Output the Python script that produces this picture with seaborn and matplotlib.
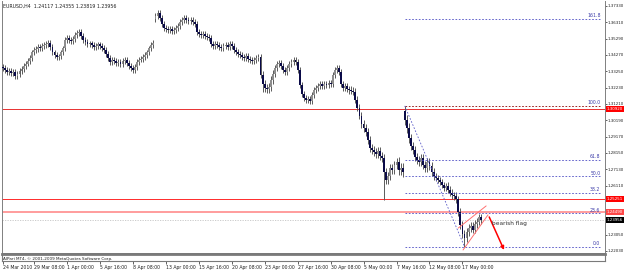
import matplotlib
matplotlib.use("Agg")
import matplotlib.pyplot as plt
import numpy as np
import pandas as pd
import seaborn as sns

# EURUSD H4 closes, 24 Mar - 17 May 2010
closes = [
    1.3346, 1.3333, 1.3320, 1.3327, 1.3314, 1.3320, 1.3295, 1.3308, 1.3327, 1.3339,
    1.3358, 1.3371, 1.3389, 1.3408, 1.3445, 1.3458, 1.3464, 1.3477, 1.3470, 1.3483,
    1.3489, 1.3495, 1.3501, 1.3477, 1.3445, 1.3427, 1.3414, 1.3420, 1.3445, 1.3470,
    1.3520, 1.3533, 1.3520, 1.3514, 1.3526, 1.3551, 1.3564, 1.3570, 1.3545, 1.3520,
    1.3508, 1.3495, 1.3501, 1.3489, 1.3477, 1.3483, 1.3495, 1.3483, 1.3470, 1.3458,
    1.3433, 1.3408, 1.3383, 1.3396, 1.3389, 1.3377, 1.3383, 1.3371, 1.3389, 1.3396,
    1.3377, 1.3358, 1.3346, 1.3333, 1.3352, 1.3383, 1.3396, 1.3402, 1.3414, 1.3427,
    1.3445, 1.3470, 1.3489, 1.3501,
    1.3670, 1.3689, 1.3658, 1.3620, 1.3595, 1.3589,
    1.3583, 1.3589, 1.3576, 1.3583, 1.3595, 1.3608, 1.3633, 1.3645, 1.3658, 1.3645,
    1.3639, 1.3645, 1.3633, 1.3620, 1.3570, 1.3558, 1.3551, 1.3558, 1.3545, 1.3539,
    1.3533, 1.3495, 1.3483, 1.3495, 1.3489, 1.3477, 1.3470, 1.3483, 1.3489, 1.3477,
    1.3495, 1.3483, 1.3458, 1.3445, 1.3433, 1.3427, 1.3414, 1.3408, 1.3420, 1.3402,
    1.3396, 1.3389, 1.3396, 1.3408, 1.3414, 1.3302, 1.3246, 1.3221, 1.3214, 1.3227,
    1.3270, 1.3308, 1.3346, 1.3371, 1.3377, 1.3358, 1.3333, 1.3320, 1.3346, 1.3371,
    1.3383, 1.3396, 1.3383, 1.3333, 1.3239, 1.3183, 1.3158, 1.3146, 1.3152, 1.3139,
    1.3177, 1.3208, 1.3221, 1.3233, 1.3246, 1.3233, 1.3246, 1.3239, 1.3252, 1.3246,
    1.3302, 1.3333, 1.3346, 1.3320, 1.3246, 1.3221, 1.3233, 1.3214, 1.3208, 1.3202,
    1.3196, 1.3146, 1.3096, 1.3046, 1.2996, 1.2971, 1.2946, 1.2896, 1.2846, 1.2833,
    1.2821, 1.2808, 1.2827, 1.2796, 1.2783, 1.2696, 1.2646, 1.2671, 1.2721, 1.2709,
    1.2740, 1.2758, 1.2709, 1.2721, 1.2696,
    1.3021, 1.2971, 1.2908, 1.2858, 1.2833,
    1.2790, 1.2771, 1.2758, 1.2783, 1.2740, 1.2721, 1.2758, 1.2734, 1.2696, 1.2671,
    1.2659, 1.2646, 1.2634, 1.2615, 1.2596, 1.2609, 1.2584, 1.2565, 1.2552, 1.2546,
    1.2527, 1.2446, 1.2365, 1.2309, 1.2284, 1.2321, 1.2346, 1.2359, 1.2334, 1.2371,
    1.2384, 1.2412, 1.2396,
]
first_open = 1.3352
gap_opens = {74: 1.3650, 195: 1.3075}          # weekend gaps
day_wicks = [0.0020, 0.0018, 0.0016, 0.0018, 0.0016, 0.0018, 0.0018, 0.0016,
             0.0018, 0.0018, 0.0018, 0.0016, 0.0020, 0.0020, 0.0018, 0.0018,
             0.0018, 0.0018, 0.0018, 0.0018, 0.0020, 0.0024, 0.0020, 0.0018,
             0.0020, 0.0020, 0.0018, 0.0020, 0.0022, 0.0024, 0.0026, 0.0024,
             0.0034, 0.0026, 0.0024, 0.0020, 0.0022, 0.0024, 0.0022]
high_spikes = {75: 1.3695, 88: 1.3668, 195: 1.3093}
low_spikes = {126: 1.3196, 147: 1.3125, 185: 1.2521, 224: 1.2230}

price_ticks = [1.2203, 1.2305, 1.2611, 1.2713, 1.2815, 1.2917, 1.3019,
               1.3121, 1.3223, 1.3325, 1.3427, 1.3529, 1.3631, 1.3733]
date_pos = [0, 15, 31, 47, 63, 79, 95, 111, 127, 143, 159, 175, 191, 207, 223]
date_labels = ["24 Mar 2010", "29 Mar 08:00", "1 Apr 00:00", "5 Apr 16:00",
               "8 Apr 08:00", "13 Apr 00:00", "15 Apr 16:00", "20 Apr 08:00",
               "23 Apr 00:00", "27 Apr 16:00", "30 Apr 08:00", "5 May 00:00",
               "7 May 16:00", "12 May 08:00", "17 May 00:00"]

# fibonacci from swing high bar to swing low bar
fib_high_bar, fib_low_bar = 195, 224
fib_ratios = [0.0, 0.236, 0.382, 0.5, 0.618, 1.0, 1.618]
fib_names = ["0.0", "23.6", "38.2", "50.0", "61.8", "100.0", "161.8"]

# horizontal levels (price, colour, width)
level_prices = [1.30920, 1.25251, 1.24490]
level_colors = ["#e83030", "#ff2a2a", "#ff9c9c"]
level_widths = [0.7, 0.7, 1.4]
bid = 1.23956
box_prices = [1.30920, 1.25251, 1.24490, 1.23956]
box_colors = ["#ff0000", "#ff0000", "#ff4848", "#000000"]

# bearish flag channel + arrow (bar, price)
flag_up_x, flag_up_y = [221, 234.5], [1.2346, 1.2484]
flag_lo_x, flag_lo_y = [223.3, 235.4], [1.2209, 1.2428]
arrow_from, arrow_to = (236, 1.2415), (243.2, 1.2209)

# ---- build OHLC
df = pd.DataFrame({"close": closes})
df["open"] = df["close"].shift(1).fillna(first_open)
for k, v in gap_opens.items():
    df.loc[k, "open"] = v
w = np.array([day_wicks[min(i // 6, len(day_wicks) - 1)] for i in range(len(df))])
df["high"] = df[["open", "close"]].max(axis=1) + w
df["low"] = df[["open", "close"]].min(axis=1) - w
for k, v in high_spikes.items():
    df.loc[k, "high"] = max(df.loc[k, "high"], v)
for k, v in low_spikes.items():
    df.loc[k, "low"] = min(df.loc[k, "low"], v)

sns.set_theme(style="white")
plt.rcParams["font.family"] = ["DejaVu Sans"]

fig = plt.figure(figsize=(6.25, 2.7), dpi=100)
ax = fig.add_axes([2 / 625, 17 / 270, 603 / 625, 252 / 270])
xmax = 292.2
ax.set_xlim(-0.5, xmax)
ax.set_ylim(1.2190, 1.3764)

# full-width levels
for p, c, lw in zip(level_prices, level_colors, level_widths):
    ax.axhline(p, color=c, lw=lw, zorder=1)
ax.axhline(bid, color="#c4c4c4", lw=0.6, ls=(0, (1.5, 1.5)), zorder=1)

# candles
ax.vlines(df.index, df["low"], df["high"], color="#5a5a5a", lw=0.7, zorder=2)
up = df["close"] >= df["open"]
body = (df["close"] - df["open"]).abs().clip(lower=0.0003)
ax.bar(df.index[up], body[up], bottom=df["open"][up], width=0.9,
       color="#8e8e8e", linewidth=0, zorder=3)
ax.bar(df.index[~up], body[~up], bottom=df["close"][~up], width=0.9,
       color="#0a0a48", linewidth=0, zorder=3)

# fibonacci
hi = df.loc[fib_high_bar, "high"]
lo = df.loc[fib_low_bar, "low"]
fib_end = 290
for r, name in zip(fib_ratios, fib_names):
    lvl = lo + r * (hi - lo)
    col = "#8a0000" if r == 1.0 else "#4c4cc4"
    ax.hlines(lvl, fib_high_bar, fib_end, colors=col, lw=0.6,
              linestyles=(0, (2, 2)), zorder=4)
    ax.text(fib_end, lvl + 0.0003, name, ha="right", va="bottom",
            fontsize=3.3, color="#3a3aa8", zorder=5)
sns.lineplot(x=[fib_high_bar, fib_low_bar], y=[hi, lo], ax=ax, color="#5a5ac8",
             lw=0.6, zorder=4).lines[-1].set_linestyle((0, (2, 2)))

# bearish flag
ax.plot(flag_up_x, flag_up_y, color="#ff7070", lw=0.7, zorder=5)
ax.plot(flag_lo_x, flag_lo_y, color="#ff7070", lw=0.7, zorder=5)
ax.annotate("", xy=arrow_to, xytext=arrow_from,
            arrowprops=dict(arrowstyle="-|>", color="#ff0000", lw=1.1,
                            mutation_scale=5, shrinkA=0, shrinkB=0), zorder=6)
ax.text(237.5, 1.2372, "bearish flag", fontsize=4.2, color="#303030",
        va="center", ha="left", zorder=6)

# axes styling
for s in ax.spines.values():
    s.set_color("#808080")
    s.set_linewidth(0.7)
ax.spines["top"].set_visible(False)
ax.set_xticks([])
ax.yaxis.tick_right()
ax.set_yticks(price_ticks)
ax.set_yticklabels([f"{p:.5f}" for p in price_ticks])
ax.tick_params(axis="y", right=True, length=1.2, width=0.5, pad=0.8,
               labelsize=2.9, colors="#202020")
for p, c in zip(box_prices, box_colors):
    ax.text(1.0025, p, f"{p:.5f}", transform=ax.get_yaxis_transform(),
            fontsize=2.9, color="white", va="center", ha="left", clip_on=False,
            bbox=dict(boxstyle="square,pad=0.25", fc=c, ec="none"), zorder=7)

# thin bottom window with copyright + time axis
sax = fig.add_axes([2 / 625, 9 / 270, 603 / 625, 7 / 270])
sax.set_xlim(-0.5, xmax)
sax.set_yticks([])
for name, s in sax.spines.items():
    s.set_color("#7a7a7a")
    s.set_linewidth(2.0 if name == "top" else 0.8)
sax.text(0.002, 0.35, "AlPari MT4, \u00a9 2001-2009 MetaQuotes Software Corp.",
         transform=sax.transAxes, fontsize=3.0, va="center", color="#202020")
sax.set_xticks(date_pos)
sax.set_xticklabels(date_labels)
sax.tick_params(axis="x", bottom=True, length=2, width=0.5, pad=1,
                labelsize=3.3, colors="#202020")
for lab in sax.get_xticklabels():
    lab.set_ha("left")

fig.text(3 / 625, 1 - 6 / 270, "EURUSD,H4  1.24117 1.24355 1.23819 1.23956",
         fontsize=3.4, va="center", ha="left", color="#202020")

fig.savefig("out.png", dpi=100, facecolor="white")
